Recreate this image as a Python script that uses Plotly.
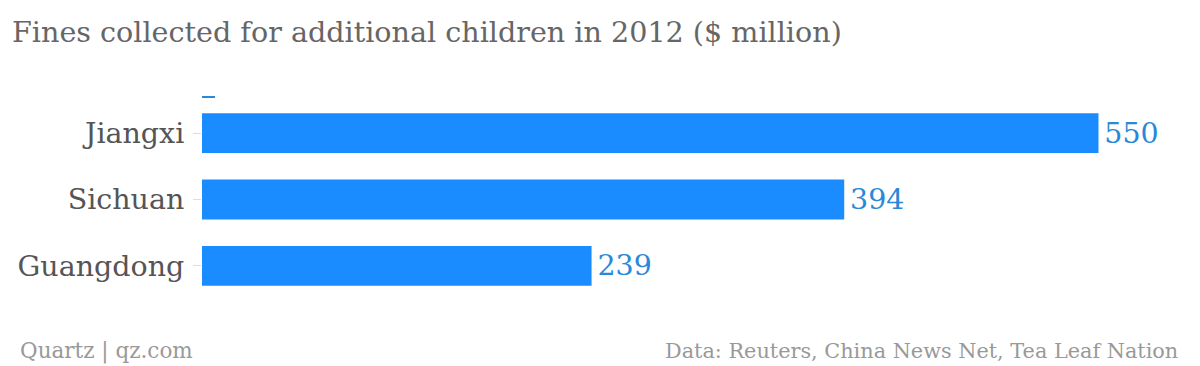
import plotly.graph_objects as go

provinces = ["Jiangxi", "Sichuan", "Guangdong"]
fines = [550, 394, 239]
labels = ["550", "394", "239"]

bar_color = "#1a8cff"
label_color = "#2a88d8"
serif = "DejaVu Serif"

fig = go.Figure()
fig.add_trace(go.Bar(
    x=fines, y=provinces, orientation="h",
    marker=dict(color=bar_color, line=dict(width=0)),
    text=labels, texttemplate="\u200a%{text}", textposition="outside", cliponaxis=False,
    textfont=dict(family=serif, size=28.5, color=label_color),
    hoverinfo="skip",
))

fig.update_layout(
    width=1200, height=366,
    margin=dict(l=202, r=20, t=100, b=67),
    paper_bgcolor="white", plot_bgcolor="white",
    bargap=0.4,
    showlegend=False,
    font=dict(family=serif),
    xaxis=dict(range=[0, 600], showgrid=False, zeroline=False, showticklabels=False,
               showline=False, ticks=""),
    yaxis=dict(autorange="reversed", showgrid=False, zeroline=False, showline=False,
               ticks="outside", ticklen=8, tickcolor="#dddddd", tickwidth=1,
               tickfont=dict(family=serif, size=28.5, color="#555555"),
               ticklabelstandoff=3),
    annotations=[
        dict(text="Fines collected for additional children in 2012 ($ million)",
             xref="paper", yref="paper", x=-192/978, y=1 + 68/199, xanchor="left", yanchor="middle",
             showarrow=False, font=dict(family=serif, size=28.6, color="#666666")),
        dict(text="Quartz | qz.com", xref="paper", yref="paper", x=-184/978, y=-52/199,
             xanchor="left", yanchor="middle", showarrow=False,
             font=dict(family=serif, size=21.5, color="#999999")),
        dict(text="Data: Reuters, China News Net, Tea Leaf Nation", xref="paper", yref="paper",
             x=1, y=-52/199, xanchor="right", yanchor="middle", showarrow=False,
             font=dict(family=serif, size=20.8, color="#999999")),
    ],
    shapes=[dict(type="line", xref="x", yref="paper", x0=0, x1=8, y0=1 + 3/199, y1=1 + 3/199,
                 line=dict(color="#2a88d8", width=2))],
)

fig.write_html("out.html", config={"displayModeBar": False},
               post_script="document.body.style.margin='0';")
